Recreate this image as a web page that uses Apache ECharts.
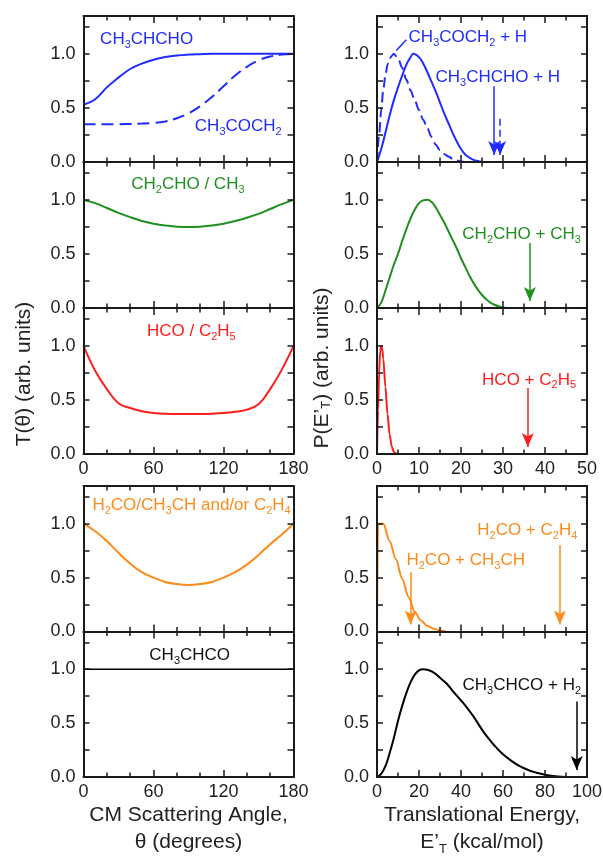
<!DOCTYPE html>
<html>
<head>
<meta charset="utf-8">
<title>T(theta) and P(E'T) distributions</title>
<script src="https://cdn.jsdelivr.net/npm/echarts@6/dist/echarts.min.js"></script>
<style>
  html, body { margin: 0; padding: 0; background: #fff; }
  #chart { width: 603px; height: 857px; }
</style>
</head>
<body>
<div id="chart"></div>
<script>
// ---- angular distributions T(theta), left column ----
const thetaDeg = [0, 10, 20, 30, 40, 50, 60, 70, 80, 90, 100, 110, 120, 130, 140, 150, 160, 170, 180];
const tCH3CHCHO = [0.53, 0.58, 0.69, 0.78, 0.86, 0.91, 0.945, 0.97, 0.985, 0.993, 0.997, 1, 1, 1, 1, 1, 1, 1, 1];
const tCH3COCH2 = [0.35, 0.35, 0.35, 0.35, 0.352, 0.355, 0.36, 0.375, 0.405, 0.45, 0.515, 0.6, 0.7, 0.8, 0.88, 0.94, 0.975, 0.993, 1];
const tCH2CHO = [1, 0.97, 0.925, 0.88, 0.84, 0.805, 0.78, 0.762, 0.752, 0.748, 0.752, 0.762, 0.78, 0.805, 0.835, 0.87, 0.915, 0.96, 1];
const tHCO = [1, 0.77, 0.6, 0.47, 0.425, 0.395, 0.38, 0.372, 0.37, 0.37, 0.37, 0.372, 0.378, 0.39, 0.41, 0.46, 0.6, 0.78, 1];
const tH2CO = [1, 0.93, 0.84, 0.73, 0.63, 0.55, 0.5, 0.46, 0.44, 0.432, 0.44, 0.46, 0.5, 0.55, 0.62, 0.71, 0.81, 0.9, 1];
const thetaEnds = [0, 180];
const tCH3CHCO = [1, 1];

// ---- translational energy distributions P(E'T), right column ----
const eCH3CHCHO_H = [0, 1, 2, 3, 4, 5, 6, 7, 8, 8.6, 10, 11, 12, 13, 14, 15, 16, 17, 18, 19, 20, 21, 22, 23, 24, 25, 26, 28];
const pCH3CHCHO_H = [0, 0.12, 0.27, 0.43, 0.57, 0.69, 0.8, 0.9, 0.97, 1, 0.97, 0.91, 0.83, 0.74, 0.65, 0.55, 0.45, 0.36, 0.27, 0.19, 0.12, 0.07, 0.04, 0.02, 0.01, 0.003, 0, 0];
const eCH3COCH2_H = [0, 0.5, 1, 1.5, 2, 2.5, 3, 4, 5, 6, 7, 8, 9, 10, 11, 12, 13, 14, 15, 16, 17, 18, 19, 20, 21];
const pCH3COCH2_H = [0, 0.25, 0.48, 0.67, 0.8, 0.9, 0.96, 1, 0.96, 0.87, 0.76, 0.66, 0.57, 0.48, 0.39, 0.31, 0.23, 0.16, 0.11, 0.075, 0.05, 0.03, 0.015, 0.005, 0];
const eCH2CHO_CH3 = [0, 1, 2, 3, 4, 5, 6, 7, 8, 9, 10, 11, 12, 13, 14, 15, 16, 17, 18, 19, 20, 21, 22, 23, 24, 25, 26, 27, 28, 29, 30, 31];
const pCH2CHO_CH3 = [0, 0.05, 0.16, 0.28, 0.4, 0.5, 0.62, 0.73, 0.83, 0.91, 0.97, 0.995, 1, 0.98, 0.93, 0.86, 0.79, 0.71, 0.63, 0.55, 0.46, 0.38, 0.3, 0.23, 0.17, 0.12, 0.08, 0.05, 0.03, 0.015, 0.005, 0];
const eHCO_C2H5 = [0, 0.25, 0.5, 0.75, 1, 1.25, 1.5, 2, 2.5, 3, 3.5, 4, 4.5, 5, 10, 16];
const pHCO_C2H5 = [0, 0.4, 0.75, 0.95, 1, 0.97, 0.88, 0.62, 0.37, 0.18, 0.07, 0.02, 0.005, 0, 0, 0];
const eH2CO = [0, 0.5, 3, 6, 9, 12, 15, 18, 21, 24, 27, 30, 33];
const pH2CO = [0, 1, 1, 0.84, 0.67, 0.49, 0.32, 0.18, 0.1, 0.05, 0.025, 0.01, 0];
const eCH3CHCO_H2 = [0, 2, 4, 6, 8, 10, 12, 14, 16, 18, 20, 22, 24, 26, 28, 30, 33, 36, 40, 43, 46, 50, 53, 56, 60, 64, 68, 72, 76, 80, 84, 88, 92];
const pCH3CHCO_H2 = [0, 0.03, 0.1, 0.22, 0.36, 0.52, 0.66, 0.78, 0.88, 0.95, 0.99, 1, 0.995, 0.98, 0.955, 0.92, 0.87, 0.8, 0.71, 0.64, 0.56, 0.44, 0.36, 0.29, 0.21, 0.15, 0.1, 0.065, 0.04, 0.02, 0.01, 0.003, 0];

// available energy arrows: [energy, top of arrow]
const arrowCH3CHCHO_H = [[27.9, 0.70]];
const arrowCH3COCH2_H = [[29.3, 0.40]];
const arrowCH2CHO_CH3 = [[36.4, 0.60]];
const arrowHCO_C2H5 = [[35.9, 0.61]];
const arrowH2CO = [[16.0, 0.55], [87.1, 0.80]];
const arrowCH3CHCO_H2 = [[95.1, 0.70]];

const yLabelValues = [0, 0.5, 1.0];
const Y_MAX = 1.35;

const FONT = '"Liberation Sans", Arial, Helvetica, sans-serif';
const INK = '#1a1a1a';
const BLUE = '#1f2bff', GREEN = '#1f8f1f', RED = '#ff1c1c', ORANGE = '#ff8a1a', BLACK = '#000000';
const ARROW_W = 9, ARROW_H = 14;

const cols = [{ left: 83.5, width: 210 }, { left: 377, width: 210 }];
const rows = [
  { top: 16, h: 146 }, { top: 162, h: 146 }, { top: 308, h: 146 },
  { top: 486, h: 145.5 }, { top: 631.5, h: 145.5 }
];
// panel order: left column rows 0..4, then right column rows 0..4
const panels = [
  { col: 0, row: 0, max: 180, step: 60, minor: 3, labels: false },
  { col: 0, row: 1, max: 180, step: 60, minor: 3, labels: false },
  { col: 0, row: 2, max: 180, step: 60, minor: 3, labels: true,
    yName: 'T(θ) (arb. units)', yGap: 48.5, yPad: 14 },
  { col: 0, row: 3, max: 180, step: 60, minor: 3, labels: false },
  { col: 0, row: 4, max: 180, step: 60, minor: 3, labels: true,
    xName: 'CM Scattering Angle,\nθ (degrees)' },
  { col: 1, row: 0, max: 50, step: 10, minor: 2, labels: false },
  { col: 1, row: 1, max: 50, step: 10, minor: 2, labels: false },
  { col: 1, row: 2, max: 50, step: 10, minor: 2, labels: true,
    yName: 'P(E’{s|T}) (arb. units)', yGap: 44, yPad: 26 },
  { col: 1, row: 3, max: 100, step: 20, minor: 2, labels: false },
  { col: 1, row: 4, max: 100, step: 20, minor: 2, labels: true,
    xName: 'Translational Energy,\nE’{s|T} (kcal/mol)' }
];

const zip = (xs, ys) => xs.map((x, i) => [x, ys[i]]);
const tickStyle = { color: INK, width: 1.5 };
const lineAxis = { show: true, onZero: false, lineStyle: { color: INK, width: 2 } };
const nameRich = { s: { fontSize: 13, lineHeight: 13, verticalAlign: 'bottom', color: '#222', fontFamily: FONT } };

const grids = [], xAxes = [], yAxes = [];
panels.forEach((p, i) => {
  const c = cols[p.col], r = rows[p.row];
  grids.push({ left: c.left, width: c.width, top: r.top, height: r.h, containLabel: false, outerBoundsMode: 'none' });
  const xBase = {
    gridIndex: i, type: 'value', min: 0, max: p.max, interval: p.step, zlevel: 1,
    axisLine: lineAxis,
    axisTick: { show: true, inside: true, length: 7, lineStyle: tickStyle },
    minorTick: { show: true, splitNumber: p.minor, length: 4.5, lineStyle: tickStyle },
    splitLine: { show: false }, minorSplitLine: { show: false }
  };
  const xBottom = Object.assign({}, xBase, {
    position: 'bottom',
    axisLabel: { show: p.labels, margin: 6, color: '#222', fontSize: 18, fontFamily: FONT }
  });
  if (p.xName) {
    Object.assign(xBottom, {
      name: p.xName, nameLocation: 'middle', nameGap: 24.5, nameMoveOverlap: false,
      nameTextStyle: { color: '#222', fontSize: 21, fontFamily: FONT, lineHeight: 27, rich: nameRich }
    });
  }
  xAxes.push(xBottom);
  xAxes.push(Object.assign({}, xBase, { position: 'top', axisLabel: { show: false } }));

  const yBase = {
    gridIndex: i, type: 'value', min: 0, max: Y_MAX, interval: 0.25, zlevel: 1,
    axisLine: lineAxis,
    axisTick: { show: true, inside: true, length: 6, lineStyle: tickStyle },
    splitLine: { show: false }
  };
  const yLeft = Object.assign({}, yBase, {
    position: 'left',
    axisLabel: {
      show: true, interval: 0, margin: 8, color: '#222', fontSize: 18, fontFamily: FONT,
      formatter: v => yLabelValues.some(t => Math.abs(t - v) < 1e-6) ? v.toFixed(1) : ''
    }
  });
  if (p.yName) {
    Object.assign(yLeft, {
      name: p.yName, nameLocation: 'middle', nameGap: p.yGap, nameMoveOverlap: false,
      nameTextStyle: { color: '#222', fontSize: 21, fontFamily: FONT, lineHeight: 22,
        padding: [0, 0, 0, p.yPad], rich: nameRich }
    });
  }
  yAxes.push(yLeft);
  yAxes.push(Object.assign({}, yBase, { position: 'right', axisLabel: { show: false } }));
});

function curve(pi, data, color, extra) {
  return Object.assign({
    type: 'line', xAxisIndex: 2 * pi, yAxisIndex: 2 * pi, data: data,
    showSymbol: false, symbol: 'none', smooth: 0.4,
    lineStyle: { color: color, width: 2 }, itemStyle: { color: color },
    silent: true, animation: false, z: 3
  }, extra || {});
}

function texts(items, color) {
  return {
    symbol: 'rect', symbolSize: 1, silent: true, itemStyle: { color: 'rgba(0,0,0,0)' },
    label: {
      show: true, position: 'right', distance: 0, color: color,
      fontSize: 17, fontFamily: FONT, lineHeight: 22,
      rich: { s: { fontSize: 11, lineHeight: 12, verticalAlign: 'bottom', color: color } }
    },
    data: items.map(t => ({ coord: [t[0], t[1]], label: { formatter: t[2] } }))
  };
}

function arrowItems(pi, list, dash) {
  // lift the end so the arrow tip (not the symbol centre) sits on zero
  const lift = (ARROW_H / 2) / (rows[panels[pi].row].h / Y_MAX);
  return list.map(a => {
    const start = { coord: [a[0], a[1]], symbol: 'none' };
    if (dash) start.lineStyle = { type: dash };
    return [start, { coord: [a[0], lift], symbol: 'arrow' }];
  });
}

function marks(data, color) {
  return {
    silent: true, animation: false, symbol: ['none', 'arrow'], symbolSize: [ARROW_W, ARROW_H],
    label: { show: false }, emphasis: { disabled: true },
    lineStyle: { color: color, width: 1.5, type: 'solid' },
    itemStyle: { color: color },
    data: data
  };
}

const series = [
  // left column
  curve(0, zip(thetaDeg, tCH3CHCHO), BLUE, {
    markPoint: texts([[13.8, 1.13, 'CH{s|3}CHCHO'], [95, 0.33, 'CH{s|3}COCH{s|2}']], BLUE)
  }),
  curve(0, zip(thetaDeg, tCH3COCH2), BLUE, { lineStyle: { color: BLUE, width: 2, type: [12, 6] } }),
  curve(1, zip(thetaDeg, tCH2CHO), GREEN, {
    markPoint: texts([[40.5, 1.14, 'CH{s|2}CHO / CH{s|3}']], GREEN)
  }),
  curve(2, zip(thetaDeg, tHCO), RED, {
    markPoint: texts([[54, 1.13, 'HCO / C{s|2}H{s|5}']], RED)
  }),
  curve(3, zip(thetaDeg, tH2CO), ORANGE, {
    markPoint: texts([[7.2, 1.17, 'H{s|2}CO/CH{s|3}CH and/or C{s|2}H{s|4}']], ORANGE)
  }),
  curve(4, zip(thetaEnds, tCH3CHCO), BLACK, {
    smooth: false, lineStyle: { color: BLACK, width: 1.5 },
    markPoint: texts([[56, 1.13, 'CH{s|3}CHCO']], '#111')
  }),
  // right column
  curve(5, zip(eCH3CHCHO_H, pCH3CHCHO_H), BLUE, {
    markPoint: texts([[7.4, 1.15, 'CH{s|3}COCH{s|2} + H'], [13.8, 0.78, 'CH{s|3}CHCHO + H']], BLUE),
    markLine: marks(arrowItems(5, arrowCH3CHCHO_H), BLUE)
  }),
  curve(5, zip(eCH3COCH2_H, pCH3COCH2_H), BLUE, {
    smooth: 0.3, smoothMonotone: 'x',
    lineStyle: { color: BLUE, width: 2, type: [10, 5] },
    markLine: marks(
      arrowItems(5, arrowCH3COCH2_H, [7, 4]).concat([[
        { coord: [4.6, 1.03], symbol: 'none' },
        { coord: [7.0, 1.13], symbol: 'none' }
      ]]), BLUE)
  }),
  curve(6, zip(eCH2CHO_CH3, pCH2CHO_CH3), GREEN, {
    markPoint: texts([[20.2, 0.68, 'CH{s|2}CHO + CH{s|3}']], GREEN),
    markLine: marks(arrowItems(6, arrowCH2CHO_CH3), GREEN)
  }),
  curve(7, zip(eHCO_C2H5, pHCO_C2H5), RED, {
    smooth: 0.3, smoothMonotone: 'x',
    markPoint: texts([[24.9, 0.685, 'HCO + C{s|2}H{s|5}']], RED),
    markLine: marks(arrowItems(7, arrowHCO_C2H5), RED)
  }),
  curve(8, zip(eH2CO, pH2CO), ORANGE, {
    smooth: 0.3, smoothMonotone: 'x',
    markPoint: texts([[13.8, 0.66, 'H{s|2}CO + CH{s|3}CH'], [47.5, 0.94, 'H{s|2}CO + C{s|2}H{s|4}']], ORANGE),
    markLine: marks(arrowItems(8, arrowH2CO), ORANGE)
  }),
  curve(9, zip(eCH3CHCO_H2, pCH3CHCO_H2), BLACK, {
    markPoint: texts([[40.5, 0.85, 'CH{s|3}CHCO + H{s|2}']], '#111'),
    markLine: marks(arrowItems(9, arrowCH3CHCO_H2), BLACK)
  })
];

const chart = echarts.init(document.getElementById('chart'));
chart.setOption({
  animation: false,
  grid: grids,
  xAxis: xAxes,
  yAxis: yAxes,
  series: series
});
</script>
</body>
</html>
